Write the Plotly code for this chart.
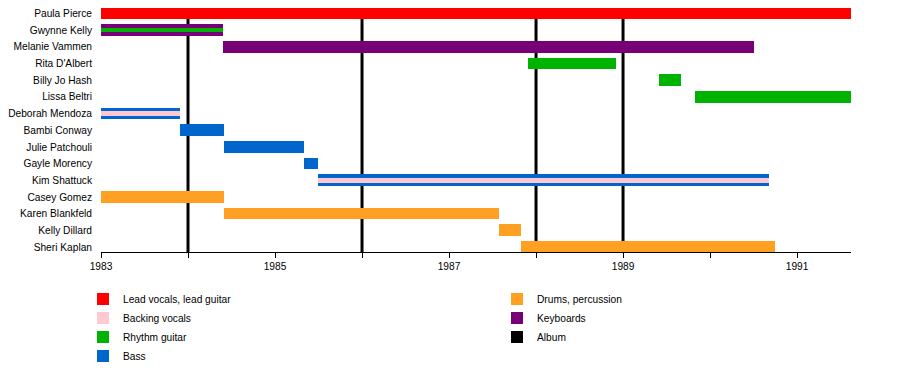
import plotly.graph_objects as go

members = ["Paula Pierce", "Gwynne Kelly", "Melanie Vammen", "Rita D'Albert", "Billy Jo Hash",
           "Lissa Beltri", "Deborah Mendoza", "Bambi Conway", "Julie Patchouli", "Gayle Morency",
           "Kim Shattuck", "Casey Gomez", "Karen Blankfeld", "Kelly Dillard", "Sheri Kaplan"]

# Main roles (full-height bars): member, start, end
lead_members = ["Paula Pierce"]
lead_start = [1983.0]
lead_end = [1991.62]

keys_members = ["Gwynne Kelly", "Melanie Vammen"]
keys_start = [1983.0, 1984.40]
keys_end = [1984.40, 1990.50]

rhythm_members = ["Rita D'Albert", "Billy Jo Hash", "Lissa Beltri"]
rhythm_start = [1987.91, 1989.41, 1989.83]
rhythm_end = [1988.92, 1989.67, 1991.62]

bass_members = ["Deborah Mendoza", "Bambi Conway", "Julie Patchouli", "Gayle Morency", "Kim Shattuck"]
bass_start = [1983.0, 1983.91, 1984.41, 1985.33, 1985.49]
bass_end = [1983.91, 1984.41, 1985.33, 1985.49, 1990.68]

drums_members = ["Casey Gomez", "Karen Blankfeld", "Kelly Dillard", "Sheri Kaplan"]
drums_start = [1983.0, 1984.41, 1987.58, 1987.83]
drums_end = [1984.41, 1987.58, 1987.83, 1990.75]

# Secondary roles (inner stripes)
rhythm2_members = ["Gwynne Kelly"]
rhythm2_start = [1983.0]
rhythm2_end = [1984.40]

backing_members = ["Deborah Mendoza", "Kim Shattuck"]
backing_start = [1983.0, 1985.49]
backing_end = [1983.91, 1990.68]

albums = [1984.0, 1986.0, 1988.0, 1989.0]

tick_years = list(range(1983, 1992))
tick_labels = [str(y) if (y - 1983) % 2 == 0 else "" for y in tick_years]

colors = {
    "Lead vocals, lead guitar": "#FF0000",
    "Backing vocals": "#FFC8D2",
    "Rhythm guitar": "#00B300",
    "Bass": "#0066CC",
    "Drums, percussion": "#FFA023",
    "Keyboards": "#770077",
    "Album": "#000000",
}

MAIN_W = 0.70
STRIPE_W = 0.27
FS = 10.2

fig = go.Figure()


def add_bars(name, mem, start, end, width, legend, show=True):
    fig.add_trace(go.Bar(
        y=mem, base=start, x=[e - s for s, e in zip(start, end)],
        orientation="h", width=[width] * len(mem),
        marker=dict(color=colors[name], line=dict(width=0)),
        name=name, legendgroup=name, showlegend=show, legend=legend,
        hoverinfo="skip",
    ))


add_bars("Lead vocals, lead guitar", lead_members, lead_start, lead_end, MAIN_W, "legend")
add_bars("Keyboards", keys_members, keys_start, keys_end, MAIN_W, "legend2", show=False)
add_bars("Rhythm guitar", rhythm_members, rhythm_start, rhythm_end, MAIN_W, "legend", show=False)
add_bars("Bass", bass_members, bass_start, bass_end, MAIN_W, "legend", show=False)
add_bars("Drums, percussion", drums_members, drums_start, drums_end, MAIN_W, "legend2", show=False)
add_bars("Rhythm guitar", rhythm2_members, rhythm2_start, rhythm2_end, STRIPE_W, "legend", show=False)
add_bars("Backing vocals", backing_members, backing_start, backing_end, STRIPE_W, "legend", show=False)

# legend-only entries (in legend order)
for name, leg in [("Backing vocals", "legend"), ("Rhythm guitar", "legend"), ("Bass", "legend"),
                  ("Drums, percussion", "legend2"), ("Keyboards", "legend2"), ("Album", "legend2")]:
    fig.add_trace(go.Bar(y=[None], x=[None], orientation="h", name=name,
                         marker=dict(color=colors[name], line=dict(width=0)),
                         legend=leg, showlegend=True, hoverinfo="skip"))

for a in albums:
    fig.add_vline(x=a, line=dict(color="black", width=3), layer="below")

font = dict(family="Liberation Sans, Arial, sans-serif", size=FS, color="#000000")

fig.update_layout(
    width=900, height=377,
    margin=dict(l=93, r=57, t=0, b=133, autoexpand=False),
    paper_bgcolor="white", plot_bgcolor="white",
    barmode="overlay", bargap=0,
    font=font,
    showlegend=True,
    legend=dict(x=-0.024, y=-0.1328, xanchor="left", yanchor="top", traceorder="normal",
                font=dict(size=FS), bgcolor="rgba(0,0,0,0)", itemclick=False, itemdoubleclick=False),
    legend2=dict(x=0.528, y=-0.1328, xanchor="left", yanchor="top", traceorder="normal",
                 font=dict(size=FS), bgcolor="rgba(0,0,0,0)", itemclick=False, itemdoubleclick=False),
    xaxis=dict(range=[1983.0, 1991.62], tickvals=tick_years, ticktext=tick_labels,
               showgrid=False, zeroline=False, showline=True, linecolor="black", linewidth=1,
               ticks="outside", ticklen=5, tickcolor="black", tickfont=dict(size=FS)),
    yaxis=dict(type="category", categoryorder="array", categoryarray=members,
               range=[14.30, -0.33], showgrid=False, zeroline=False, showline=False,
               ticks="", tickfont=dict(size=FS), ticklabelstandoff=8),
)

fig.write_html("out.html")
